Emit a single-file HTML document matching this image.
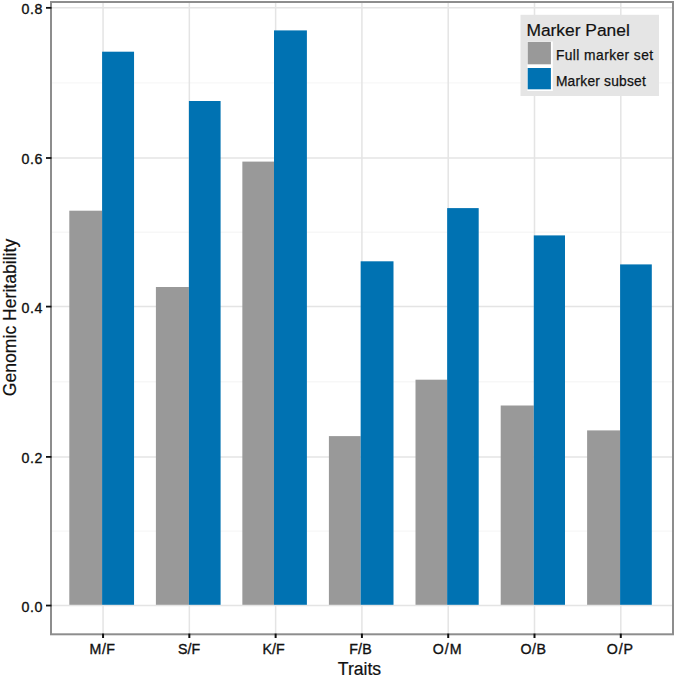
<!DOCTYPE html>
<html><head><meta charset="utf-8"><style>
html,body{margin:0;padding:0;background:#fff;width:675px;height:677px;overflow:hidden}
svg{display:block}
text{font-family:"Liberation Sans",sans-serif;fill:#111;stroke:#111;stroke-width:0.35px}
.ax{font-size:14.2px;letter-spacing:0.6px}
.tt{font-size:17.6px;stroke-width:0.2px}
.lt{font-size:17.4px;stroke-width:0.2px}
.ll{font-size:13.8px;stroke-width:0.25px}
</style></head><body>
<svg width="675" height="677" viewBox="0 0 675 677">
<rect x="0" y="0" width="675" height="677" fill="#fff"/>
<line x1="51" y1="531.12" x2="673" y2="531.12" stroke="#f7f7f7" stroke-width="1.4"/>
<line x1="51" y1="381.70" x2="673" y2="381.70" stroke="#f7f7f7" stroke-width="1.4"/>
<line x1="51" y1="232.27" x2="673" y2="232.27" stroke="#f7f7f7" stroke-width="1.4"/>
<line x1="51" y1="82.84" x2="673" y2="82.84" stroke="#f7f7f7" stroke-width="1.4"/>
<line x1="51" y1="605.55" x2="673" y2="605.55" stroke="#e4e4e4" stroke-width="1.5"/>
<line x1="51" y1="456.90" x2="673" y2="456.90" stroke="#e4e4e4" stroke-width="1.5"/>
<line x1="51" y1="306.60" x2="673" y2="306.60" stroke="#e4e4e4" stroke-width="1.5"/>
<line x1="51" y1="158.00" x2="673" y2="158.00" stroke="#e4e4e4" stroke-width="1.5"/>
<line x1="51" y1="7.85" x2="673" y2="7.85" stroke="#e4e4e4" stroke-width="1.5"/>
<line x1="103.05" y1="2" x2="103.05" y2="634" stroke="#e4e4e4" stroke-width="1.5"/>
<line x1="189.34" y1="2" x2="189.34" y2="634" stroke="#e4e4e4" stroke-width="1.5"/>
<line x1="275.63" y1="2" x2="275.63" y2="634" stroke="#e4e4e4" stroke-width="1.5"/>
<line x1="361.92" y1="2" x2="361.92" y2="634" stroke="#e4e4e4" stroke-width="1.5"/>
<line x1="448.21" y1="2" x2="448.21" y2="634" stroke="#e4e4e4" stroke-width="1.5"/>
<line x1="534.50" y1="2" x2="534.50" y2="634" stroke="#e4e4e4" stroke-width="1.5"/>
<line x1="620.79" y1="2" x2="620.79" y2="634" stroke="#e4e4e4" stroke-width="1.5"/>
<rect x="69.30" y="210.70" width="32.80" height="394.10" fill="#999999"/>
<rect x="102.10" y="51.70" width="31.95" height="553.10" fill="#0072B2"/>
<rect x="155.90" y="287.00" width="33.00" height="317.80" fill="#999999"/>
<rect x="188.90" y="101.00" width="31.70" height="503.80" fill="#0072B2"/>
<rect x="242.35" y="161.60" width="31.65" height="443.20" fill="#999999"/>
<rect x="274.00" y="30.40" width="32.90" height="574.40" fill="#0072B2"/>
<rect x="328.90" y="436.10" width="31.75" height="168.70" fill="#999999"/>
<rect x="360.65" y="261.30" width="32.85" height="343.50" fill="#0072B2"/>
<rect x="415.50" y="379.70" width="31.65" height="225.10" fill="#999999"/>
<rect x="447.15" y="208.10" width="31.55" height="396.70" fill="#0072B2"/>
<rect x="500.70" y="405.50" width="33.10" height="199.30" fill="#999999"/>
<rect x="533.80" y="235.40" width="31.20" height="369.40" fill="#0072B2"/>
<rect x="587.10" y="430.40" width="33.00" height="174.40" fill="#999999"/>
<rect x="620.10" y="264.40" width="31.70" height="340.40" fill="#0072B2"/>
<rect x="51" y="2" width="622" height="632.3" fill="none" stroke="#8d8d8d" stroke-width="2"/>
<line x1="46" y1="605.55" x2="51.5" y2="605.55" stroke="#111" stroke-width="1.8"/>
<line x1="46" y1="456.90" x2="51.5" y2="456.90" stroke="#111" stroke-width="1.8"/>
<line x1="46" y1="306.60" x2="51.5" y2="306.60" stroke="#111" stroke-width="1.8"/>
<line x1="46" y1="158.00" x2="51.5" y2="158.00" stroke="#111" stroke-width="1.8"/>
<line x1="46" y1="7.85" x2="51.5" y2="7.85" stroke="#111" stroke-width="1.8"/>
<line x1="103.05" y1="633.6" x2="103.05" y2="638" stroke="#111" stroke-width="2"/>
<line x1="189.34" y1="633.6" x2="189.34" y2="638" stroke="#111" stroke-width="2"/>
<line x1="275.63" y1="633.6" x2="275.63" y2="638" stroke="#111" stroke-width="2"/>
<line x1="361.92" y1="633.6" x2="361.92" y2="638" stroke="#111" stroke-width="2"/>
<line x1="448.21" y1="633.6" x2="448.21" y2="638" stroke="#111" stroke-width="2"/>
<line x1="534.50" y1="633.6" x2="534.50" y2="638" stroke="#111" stroke-width="2"/>
<line x1="620.79" y1="633.6" x2="620.79" y2="638" stroke="#111" stroke-width="2"/>
<text x="43" y="611.75" text-anchor="end" class="ax">0.0</text>
<text x="43" y="463.10" text-anchor="end" class="ax">0.2</text>
<text x="43" y="312.80" text-anchor="end" class="ax">0.4</text>
<text x="43" y="164.20" text-anchor="end" class="ax">0.6</text>
<text x="43" y="14.05" text-anchor="end" class="ax">0.8</text>
<text x="102.55" y="653.7" text-anchor="middle" class="ax" style="letter-spacing:0.5px">M/F</text>
<text x="189.14" y="653.7" text-anchor="middle" class="ax" style="letter-spacing:0.1px">S/F</text>
<text x="273.53" y="653.7" text-anchor="middle" class="ax" style="letter-spacing:0px">K/F</text>
<text x="360.52" y="653.7" text-anchor="middle" class="ax" style="letter-spacing:0.1px">F/B</text>
<text x="447.71" y="653.7" text-anchor="middle" class="ax" style="letter-spacing:1.0px">O/M</text>
<text x="533.50" y="653.7" text-anchor="middle" class="ax" style="letter-spacing:0.5px">O/B</text>
<text x="620.34" y="653.7" text-anchor="middle" class="ax" style="letter-spacing:0.9px">O/P</text>
<text x="359.5" y="675.3" text-anchor="middle" class="tt">Traits</text>
<text transform="translate(15.9,317.5) rotate(-90)" text-anchor="middle" class="tt">Genomic Heritability</text>
<rect x="520.5" y="14.8" width="138.5" height="81.2" fill="#e5e5e5"/>
<text x="526.4" y="35.7" class="lt">Marker Panel</text>
<rect x="527.4" y="41.5" width="25.4" height="49.5" fill="#fff"/>
<rect x="527.7" y="41.9" width="23.2" height="22.4" fill="#999999"/>
<rect x="527.7" y="68" width="23.2" height="21.3" fill="#0072B2"/>
<text x="555.9" y="60.4" class="ll" style="letter-spacing:0.43px">Full marker set</text>
<text x="555.9" y="85.6" class="ll" style="letter-spacing:0.21px">Marker subset</text>
</svg>
</body></html>
